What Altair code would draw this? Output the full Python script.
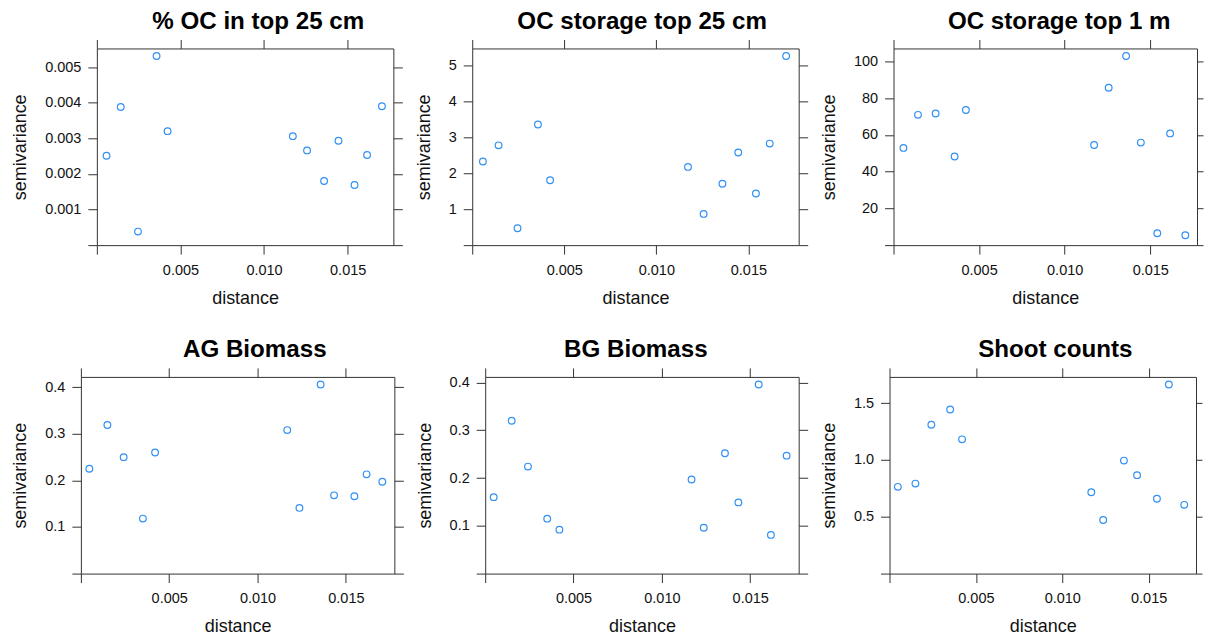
import altair as alt
import pandas as pd

# ---- data ----
dist_top = [0.00058, 0.00143, 0.00246, 0.00357, 0.00423, 0.01172,
            0.01257, 0.01359, 0.01445, 0.01541, 0.01616, 0.01705]
dist_bottom = [0.00048, 0.00150, 0.00242, 0.00351, 0.00420, 0.01168,
               0.01237, 0.01357, 0.01433, 0.01548, 0.01617, 0.01706]

oc_percent = [0.00251, 0.00388, 0.00038, 0.00531, 0.00320, 0.00306,
              0.00266, 0.00180, 0.00293, 0.00169, 0.00253, 0.00390]
oc_storage_25 = [2.33, 2.78, 0.47, 3.36, 1.81, 2.18, 0.87, 1.71, 2.58, 1.44, 2.83, 5.27]
oc_storage_1m = [52.9, 70.9, 71.6, 48.2, 73.5, 54.5, 85.6, 102.9, 55.8, 6.5, 60.8, 5.4]
ag_biomass = [0.225, 0.319, 0.250, 0.118, 0.260, 0.308, 0.141, 0.406, 0.168, 0.166, 0.213, 0.197]
bg_biomass = [0.160, 0.320, 0.224, 0.115, 0.092, 0.197, 0.096, 0.252, 0.149, 0.396, 0.081, 0.247]
shoot_counts = [0.763, 0.792, 1.310, 1.444, 1.181, 0.716, 0.471, 0.994, 0.866, 0.658, 1.664, 0.605]

titles = ["% OC in top 25 cm", "OC storage top 25 cm", "OC storage top 1 m",
          "AG Biomass", "BG Biomass", "Shoot counts"]

x_ticks = [0, 0.005, 0.010, 0.015]
y_ticks = [
    [0, 0.001, 0.002, 0.003, 0.004, 0.005],
    [0, 1, 2, 3, 4, 5],
    [0, 20, 40, 60, 80, 100],
    [0, 0.1, 0.2, 0.3, 0.4],
    [0, 0.1, 0.2, 0.3, 0.4],
    [0, 0.5, 1.0, 1.5],
]
y_formats = [".3f", "d", "d", ".1f", ".1f", ".1f"]

FONT = "Liberation Sans"
LINE = "#333333"
TEXT = "#111111"
POINT = "#3090f5"
HIDE0 = "datum.value == 0 ? '' : datum.label"


def panel(title, dist, vals, yticks, yfmt, width, height, title_x, right_gap, right_tick):
    df = pd.DataFrame({"distance": dist, "semivariance": vals})
    xs = alt.Scale(domain=[0, 1.04 * max(dist)], nice=False, zero=False)
    ys = alt.Scale(domain=[0, 1.04 * max(vals)], nice=False, zero=False)
    common = dict(grid=False, domain=False, tickColor=LINE, tickWidth=1)
    bottom = alt.Axis(orient="bottom", values=x_ticks, format=".3f", labelExpr=HIDE0,
                      title="distance", labelFont=FONT, labelFontSize=14.5, labelColor=TEXT,
                      labelPadding=9, labelFlush=False, labelOverlap=False,
                      titleFont=FONT, titleFontSize=18, titleFontWeight="normal",
                      titleColor=TEXT, titlePadding=12.5, tickSize=9, **common)
    left = alt.Axis(orient="left", values=yticks, format=yfmt, labelExpr=HIDE0,
                    title="semivariance", labelFont=FONT, labelFontSize=14.5, labelColor=TEXT,
                    labelPadding=7, labelFlush=False, labelOverlap=False,
                    titleFont=FONT, titleFontSize=18, titleFontWeight="normal",
                    titleColor=TEXT, titlePadding=15, tickSize=9, **common)
    # top axis: ticks only, carries the panel title
    top = alt.Axis(orient="top", values=x_ticks, labels=False, title=title,
                   titleFont=FONT, titleFontSize=24.2, titleFontWeight="bold",
                   titleColor="black", titleX=title_x, titleY=-20,
                   titleAlign="center", titleBaseline="alphabetic", tickSize=9, **common)
    if right_gap > 0:
        right = alt.Axis(orient="right", values=yticks, labels=False, title="semivariance",
                         titleOpacity=0, titleFont=FONT, titleFontSize=8,
                         titlePadding=right_gap, tickSize=right_tick, **common)
    else:
        right = alt.Axis(orient="right", values=yticks, labels=False, title=None,
                         tickSize=right_tick, **common)

    pts = alt.Chart(df).mark_point(shape="circle", filled=False, size=45, strokeWidth=1.2,
                                   color=POINT, opacity=1).encode(
        x=alt.X("distance:Q", scale=xs, axis=bottom),
        y=alt.Y("semivariance:Q", scale=ys, axis=left),
    )
    ghost = alt.Chart(df).mark_point(opacity=0, size=1).encode(
        x=alt.X("distance:Q", scale=xs, axis=top),
        y=alt.Y("semivariance:Q", scale=ys, axis=right),
    )
    return alt.layer(pts, ghost).resolve_axis(x="independent", y="independent").properties(
        width=width, height=height)


def spacer():
    return alt.Chart(pd.DataFrame({"a": [0]})).mark_point(
        size=0, opacity=0, strokeWidth=0).encode(
        x=alt.value(0), y=alt.value(0)).properties(
        width=1, height=1, view=alt.ViewBackground(stroke="transparent"))


widths = [297, 327, 304, 314, 314, 307]
heights = [197] * 6
title_xs = [161.2, 169.7, 165.5, 173.7, 150.4, 165.5]
right_gaps = [3, 3, 0, 3, 3, 0]
right_ticks = [9, 9, 6, 9, 9, 6]
dists = [dist_top, dist_top, dist_top, dist_bottom, dist_bottom, dist_bottom]
values = [oc_percent, oc_storage_25, oc_storage_1m, ag_biomass, bg_biomass, shoot_counts]

panels = [panel(titles[i], dists[i], values[i], y_ticks[i], y_formats[i], widths[i],
                heights[i], title_xs[i], right_gaps[i], right_ticks[i]) for i in range(6)]

row1 = alt.hconcat(spacer(), panels[0], panels[1], panels[2], spacing=0)
row2 = alt.hconcat(spacer(), panels[3], panels[4], panels[5], spacing=0)

chart = alt.vconcat(row1, row2, spacing=29).properties(padding=0).configure(
    font=FONT, background="white").configure_view(stroke=LINE, strokeWidth=1)

chart.save("out.html", embed_options={"renderer": "svg", "actions": False})
